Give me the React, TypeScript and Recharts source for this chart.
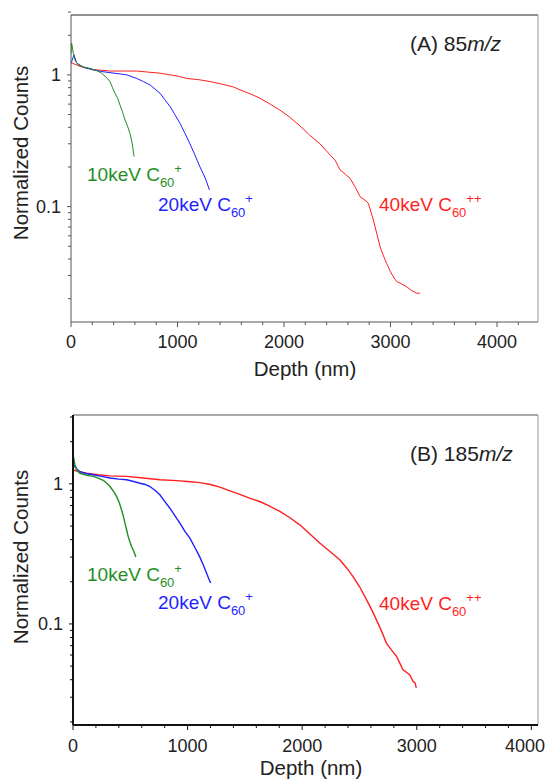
import React from 'react';
import { LineChart, Line, XAxis, YAxis, ReferenceLine } from 'recharts';

// Depth (nm), normalized counts — panel A (85 m/z)
const green85: [number, number][] = [
  [0, 1.45], [6, 1.74], [22, 1.46], [40, 1.28], [69, 1.19], [120, 1.15], [178, 1.12], [240, 1.08],
  [288, 1.03], [330, 0.96], [366, 0.89], [390, 0.8], [413, 0.726], [440, 0.66], [460, 0.59],
  [485, 0.52], [507, 0.455], [530, 0.41], [554, 0.36], [575, 0.3], [592, 0.24],
];
const blue85: [number, number][] = [
  [0, 1.22], [6, 1.26], [28, 1.42], [53, 1.23], [120, 1.14], [210, 1.09], [290, 1.06], [366, 1.04],
  [450, 1.02], [523, 1.0], [617, 0.94], [680, 0.89], [742, 0.84], [790, 0.78], [836, 0.726],
  [880, 0.65], [930, 0.575], [975, 0.5], [1023, 0.43], [1070, 0.36], [1117, 0.3], [1165, 0.245],
  [1211, 0.2], [1260, 0.165], [1300, 0.134],
];
const red85: [number, number][] = [
  [0, 1.24], [85, 1.16], [200, 1.1], [366, 1.07], [500, 1.07], [617, 1.07], [836, 1.03], [1000, 0.98],
  [1086, 0.94], [1200, 0.92], [1305, 0.89], [1420, 0.85], [1524, 0.81], [1587, 0.77], [1680, 0.72],
  [1775, 0.665], [1870, 0.6], [1962, 0.54], [2050, 0.48], [2150, 0.41], [2240, 0.35], [2338, 0.3],
  [2432, 0.247], [2480, 0.225], [2526, 0.19], [2580, 0.175], [2620, 0.164], [2670, 0.14], [2714, 0.119],
  [2760, 0.112], [2792, 0.106], [2839, 0.079], [2870, 0.063], [2901, 0.05], [2930, 0.043], [2964, 0.037],
  [3000, 0.032], [3042, 0.028], [3058, 0.027], [3100, 0.026], [3152, 0.0246], [3200, 0.023],
  [3246, 0.022], [3277, 0.022],
];

// panel B (185 m/z)
const green185: [number, number][] = [
  [0, 1.45], [3, 1.57], [17, 1.37], [35, 1.25], [61, 1.19], [120, 1.15], [177, 1.13], [220, 1.1],
  [264, 1.06], [300, 1.0], [323, 0.957], [355, 0.88], [381, 0.81], [405, 0.73], [424, 0.65],
  [440, 0.585], [453, 0.525], [468, 0.47], [482, 0.42], [497, 0.385], [511, 0.357], [530, 0.33],
  [549, 0.3],
];
const blue185: [number, number][] = [
  [0, 1.32], [3, 1.37], [30, 1.28], [61, 1.22], [120, 1.18], [177, 1.16], [250, 1.13], [323, 1.1],
  [400, 1.08], [468, 1.07], [530, 1.04], [584, 1.01], [630, 0.99], [671, 0.957], [715, 0.9],
  [758, 0.835], [800, 0.75], [846, 0.67], [890, 0.59], [933, 0.525], [975, 0.46], [1020, 0.41],
  [1065, 0.35], [1107, 0.3], [1140, 0.26], [1166, 0.23], [1185, 0.21], [1201, 0.196],
];
const red185: [number, number][] = [
  [0, 1.22], [3, 1.26], [50, 1.22], [119, 1.19], [220, 1.16], [323, 1.14], [468, 1.13], [613, 1.1],
  [758, 1.07], [904, 1.055], [1000, 1.04], [1107, 1.02], [1200, 0.99], [1282, 0.947], [1370, 0.89],
  [1456, 0.84], [1540, 0.79], [1630, 0.748], [1720, 0.69], [1805, 0.635], [1890, 0.575], [1979, 0.51],
  [2065, 0.44], [2153, 0.378], [2240, 0.33], [2328, 0.287], [2390, 0.25], [2444, 0.218], [2500, 0.185],
  [2561, 0.149], [2605, 0.127], [2648, 0.107], [2690, 0.09], [2735, 0.073], [2780, 0.065],
  [2822, 0.059], [2850, 0.053], [2880, 0.047], [2938, 0.0435], [2967, 0.039], [2985, 0.038],
  [2996, 0.035],
];

const xMajor = [0, 1000, 2000, 3000, 4000];
const xMinor = Array.from({ length: 22 }, (_, i) => i * 200);
const yMajor = [0.1, 1];
const yMinor = [0.02, 0.03, 0.04, 0.05, 0.06, 0.07, 0.08, 0.09, 0.2, 0.3, 0.4, 0.5, 0.6, 0.7, 0.8, 0.9, 2, 3];

const GREEN = '#1f8f1f';
const BLUE = '#1f1fff';
const RED = '#ff1f1f';
const FONT = '"Liberation Sans", Arial, sans-serif';

const toRows = (pts: [number, number][]) => pts.map(([d, v]) => ({ d, v }));

const XTick = (props: any) => {
  const { x, y, payload, labelOffset, stroke } = props;
  const major = xMajor.includes(payload.value);
  // keep the last label inside the page
  const tx = Math.min(x, 525);
  return (
    <g>
      <line x1={x} x2={x} y1={y} y2={y + (major ? 5 : 3)} stroke={stroke} />
      {major && (
        <text x={tx} y={y + labelOffset} textAnchor="middle" dominantBaseline="central"
          fontSize={18} fontFamily={FONT} fill="#222">{payload.value}</text>
      )}
    </g>
  );
};

const YTick = (props: any) => {
  const { x, y, payload, stroke } = props;
  const major = yMajor.includes(payload.value);
  return (
    <g>
      <line x1={x - (major ? 4 : 3)} x2={x} y1={y} y2={y} stroke={stroke} />
      {major && (
        <text x={x - 10} y={y} textAnchor="end" dominantBaseline="central"
          fontSize={18} fontFamily={FONT} fill="#222">{payload.value}</text>
      )}
    </g>
  );
};

const Ion = ({ energy, charge, color, left, top }: any) => (
  <div style={{ position: 'absolute', left, top, transform: 'translateY(-50%)', color, fontSize: 19,
    lineHeight: '19px', fontFamily: FONT, whiteSpace: 'nowrap' }}>
    {energy} C
    <span style={{ fontSize: 13, position: 'relative', top: 6 }}>60</span>
    <span style={{ fontSize: 13, position: 'relative', top: -8 }}>{charge}</span>
  </div>
);

const Tag = ({ prefix, mass, left, top }: any) => (
  <div style={{ position: 'absolute', left, top, transform: 'translateY(-50%)', fontSize: 21,
    lineHeight: '21px', fontFamily: FONT, color: '#222', whiteSpace: 'nowrap' }}>
    {prefix} {mass}<i>m/z</i>
  </div>
);

const YTitle = ({ cx, cy }: any) => (
  <div style={{ position: 'absolute', left: cx, top: cy, transform: 'translate(-50%,-50%) rotate(-90deg)',
    fontSize: 20.5, lineHeight: '20.5px', fontFamily: FONT, color: '#222', whiteSpace: 'nowrap' }}>
    Normalized Counts
  </div>
);

const XTitle = ({ cx, cy }: any) => (
  <div style={{ position: 'absolute', left: cx, top: cy, transform: 'translate(-50%,-50%)',
    fontSize: 20.5, lineHeight: '20.5px', fontFamily: FONT, color: '#222', whiteSpace: 'nowrap' }}>
    Depth (nm)
  </div>
);

const Panel = (p: any) => {
  const ticks = xMinor.filter((t) => t <= p.xMax);
  return (
    <div style={{ position: 'absolute', left: 0, top: p.top }}>
      <LineChart width={547} height={p.height} margin={{ top: p.mTop, right: 9, left: 0, bottom: 0 }}>
        <XAxis dataKey="d" type="number" domain={[0, p.xMax]} allowDataOverflow ticks={ticks} interval={0}
          tickSize={0} tickMargin={0} height={p.xHeight}
          axisLine={{ stroke: p.axis, strokeWidth: p.axisW }}
          tick={(t: any) => <XTick {...t} labelOffset={p.labelOffset} stroke={p.axis} />} />
        <YAxis type="number" scale="log" domain={p.yDomain} allowDataOverflow ticks={yMinor.concat(yMajor)}
          interval={0} tickSize={0} tickMargin={0} width={p.yWidth}
          axisLine={{ stroke: p.axis, strokeWidth: p.axisW }}
          tick={(t: any) => <YTick {...t} stroke={p.axis} />} />
        <ReferenceLine y={p.yDomain[1]} stroke={p.topLine} />
        <ReferenceLine x={p.xMax} stroke="#999" />
        <Line data={toRows(p.red)} dataKey="v" stroke={RED} strokeWidth={p.lw} dot={false} isAnimationActive={false} />
        <Line data={toRows(p.blue)} dataKey="v" stroke={BLUE} strokeWidth={p.lw} dot={false} isAnimationActive={false} />
        <Line data={toRows(p.green)} dataKey="v" stroke={GREEN} strokeWidth={p.lw} dot={false} isAnimationActive={false} />
      </LineChart>
    </div>
  );
};

export default function App() {
  return (
    <div style={{ position: 'absolute', left: 0, top: 0, width: 547, height: 779, background: '#fff', overflow: 'hidden' }}>
      <Panel top={0} height={390} mTop={15} xHeight={68} yWidth={71} xMax={4385} yDomain={[0.0133, 2.85]}
        labelOffset={19.7} axis="#555" axisW={1} topLine="#222" lw={1}
        green={green85} blue={blue85} red={red85} />
      <Panel top={390} height={389} mTop={25} xHeight={54} yWidth={73} xMax={4058} yDomain={[0.019, 3.1]}
        labelOffset={20.7} axis="#111" axisW={2} topLine="#555" lw={1.4}
        green={green185} blue={blue185} red={red185} />

      <YTitle cx={21} cy={153} />
      <XTitle cx={305} cy={369} />
      <Tag prefix="(A)" mass="85" left={410} top={43} />
      <Ion energy="10keV" charge="+" color={GREEN} left={87} top={175} />
      <Ion energy="20keV" charge="+" color={BLUE} left={158} top={205} />
      <Ion energy="40keV" charge="++" color={RED} left={379} top={205} />

      <YTitle cx={21} cy={557} />
      <XTitle cx={311} cy={768} />
      <Tag prefix="(B)" mass="185" left={410} top={453} />
      <Ion energy="10keV" charge="+" color={GREEN} left={87} top={575} />
      <Ion energy="20keV" charge="+" color={BLUE} left={158} top={603} />
      <Ion energy="40keV" charge="++" color={RED} left={379} top={604} />
    </div>
  );
}
